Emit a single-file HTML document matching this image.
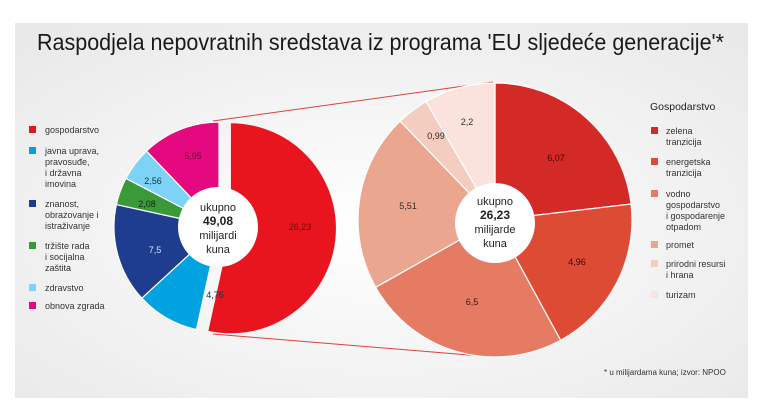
<!DOCTYPE html>
<html><head><meta charset="utf-8"><style>
body{margin:0;background:#fff;}
svg{display:block;font-family:"Liberation Sans",sans-serif;}
</style></head><body>
<svg id="s" width="760" height="410" viewBox="0 0 760 410">
<defs>
<radialGradient id="bg" cx="0.5" cy="0.55" r="0.7">
<stop offset="0" stop-color="#ffffff"/><stop offset="1" stop-color="#e9e9e9"/>
</radialGradient>
</defs>
<rect x="15" y="23" width="733" height="375" fill="url(#bg)"/>
<text x="37" y="50" font-size="23" textLength="687" lengthAdjust="spacingAndGlyphs" fill="#1a1a1a">Raspodjela nepovratnih sredstava iz programa 'EU sljedeće generacije'*</text>
<line x1="213" y1="121" x2="493" y2="82" stroke="#d9443a" stroke-width="1"/>
<line x1="213" y1="334" x2="493" y2="357" stroke="#d9443a" stroke-width="1"/>
<g id="left"></g>
<g id="right"></g>
<circle cx="218" cy="227" r="40" fill="#fff"/>
<circle cx="495" cy="223" r="40" fill="#fff"/>
<g font-size="11" fill="#222" text-anchor="middle">
<text x="218" y="211">ukupno</text>
<text x="218" y="225" font-weight="bold" font-size="12">49,08</text>
<text x="218" y="239">milijardi</text>
<text x="218" y="253">kuna</text>
<text x="495" y="205">ukupno</text>
<text x="495" y="219" font-weight="bold" font-size="12">26,23</text>
<text x="495" y="233">milijarde</text>
<text x="495" y="247">kuna</text>
</g>
<g font-size="9" text-anchor="middle">
<text x="300" y="230" fill="#7a0a0a">26,23</text>
<text x="215" y="298" fill="#0a3550">4,76</text>
<text x="155" y="253" fill="#cfe0ff">7,5</text>
<text x="147" y="207" fill="#102a10">2,08</text>
<text x="153" y="184" fill="#0a3550">2,56</text>
<text x="193" y="159" fill="#6a0a3a">5,95</text>
<text x="556" y="161" fill="#3a0a0a">6,07</text>
<text x="577" y="265" fill="#3a0a0a">4,96</text>
<text x="472" y="305" fill="#3a1a10">6,5</text>
<text x="408" y="209" fill="#3a2a20">5,51</text>
<text x="436" y="139" fill="#3a2a20">0,99</text>
<text x="467" y="125" fill="#3a2a20">2,2</text>
</g>
<g font-size="9" fill="#333">
<rect x="29" y="126" width="7" height="7" fill="#e8141e"/><text x="45" y="133">gospodarstvo</text>
<rect x="29" y="147" width="7" height="7" fill="#00a3e0"/><text x="45" y="154">javna uprava,</text><text x="45" y="165">pravosuđe,</text><text x="45" y="176">i državna</text><text x="45" y="187">imovina</text>
<rect x="29" y="200" width="7" height="7" fill="#1f3d8f"/><text x="45" y="207">znanost,</text><text x="45" y="218">obrazovanje i</text><text x="45" y="229">istraživanje</text>
<rect x="29" y="242" width="7" height="7" fill="#3a9a3a"/><text x="45" y="249">tržište rada</text><text x="45" y="260">i socijalna</text><text x="45" y="271">zaštita</text>
<rect x="29" y="284" width="7" height="7" fill="#7dd3f5"/><text x="45" y="291">zdravstvo</text>
<rect x="29" y="302" width="7" height="7" fill="#e5097f"/><text x="45" y="309">obnova zgrada</text>
<text x="650" y="110" font-size="10.5" fill="#222">Gospodarstvo</text>
<rect x="651" y="127" width="7" height="7" fill="#d42a27"/><text x="666" y="134">zelena</text><text x="666" y="145">tranzicija</text>
<rect x="651" y="158" width="7" height="7" fill="#dd4b35"/><text x="666" y="165">energetska</text><text x="666" y="176">tranzicija</text>
<rect x="651" y="190" width="7" height="7" fill="#e47b62"/><text x="666" y="197">vodno</text><text x="666" y="208">gospodarstvo</text><text x="666" y="219">i gospodarenje</text><text x="666" y="230">otpadom</text>
<rect x="651" y="241" width="7" height="7" fill="#eba68f"/><text x="666" y="248">promet</text>
<rect x="651" y="260" width="7" height="7" fill="#f3cdc0"/><text x="666" y="267">prirodni resursi</text><text x="666" y="278">i hrana</text>
<rect x="651" y="291" width="7" height="7" fill="#f9e3dc"/><text x="666" y="298">turizam</text>
<text x="604" y="375" font-size="8">* u milijardama kuna; izvor: NPOO</text>
</g>
</svg>
<script>
function arc(cx,cy,r,a0,a1){
 var p=function(a){return [cx+r*Math.sin(a),cy-r*Math.cos(a)];};
 var s=p(a0),e=p(a1),l=(a1-a0)>Math.PI?1:0;
 return 'M'+cx+','+cy+'L'+s[0]+','+s[1]+'A'+r+','+r+' 0 '+l+' 1 '+e[0]+','+e[1]+'Z';
}
function pie(g,cx,cy,r,vals,cols,stroke,offIdx,off){
 var t=vals.reduce(function(a,b){return a+b;},0),a=0,h='';
 vals.forEach(function(v,i){
  var a1=a+v/t*2*Math.PI,x=cx,y=cy;
  if(i===offIdx){var m=(a+a1)/2;x+=off*Math.sin(m);y-=off*Math.cos(m);}
  h+='<path d="'+arc(x,y,r,a,a1)+'" fill="'+cols[i]+'" stroke="'+stroke+'" stroke-width="'+(i===offIdx?0:1.2)+'"/>';
  a=a1;
 });
 document.getElementById(g).innerHTML=h;
}
pie('left',219,227,105,[26.23,4.76,7.5,2.08,2.56,5.95],['#e8141e','#00a3e0','#1f3d8f','#3a9a3a','#7dd3f5','#e5097f'],'#fff',0,12);
pie('right',495,220,137,[6.07,4.96,6.5,5.51,0.99,2.2],['#d42a27','#dd4b35','#e47b62','#eba68f','#f3cdc0','#f9e3dc'],'#fff',-1,0);
</script>
</body></html>
